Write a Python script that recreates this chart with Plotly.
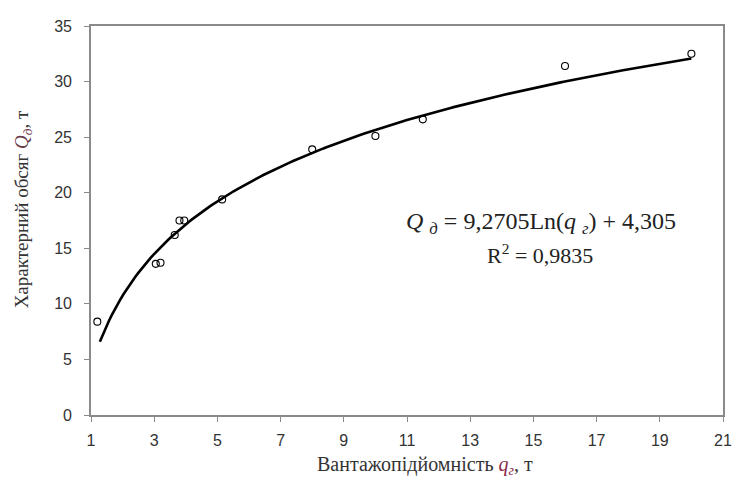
import numpy as np
import plotly.graph_objects as go

# Observed data (capacity q_г, t ; characteristic volume Q_д, t)
capacity = [1.2, 3.05, 3.2, 3.65, 3.8, 3.95, 5.15, 8.0, 10.0, 11.5, 16.0, 20.0]
volume = [8.4, 13.6, 13.7, 16.2, 17.5, 17.5, 19.4, 23.9, 25.1, 26.6, 31.4, 32.5]

# Logarithmic trendline coefficients as printed on the chart
trend_a = 9.2705
trend_b = 4.305
trend_x_start = 1.28
trend_x_end = 20.0

x_ticks = [1, 3, 5, 7, 9, 11, 13, 15, 17, 19, 21]
y_ticks = [0, 5, 10, 15, 20, 25, 30, 35]

eq_text = ("<i>Q</i> <sub><i>д</i></sub> = 9,2705Ln(<i>q</i> <sub><i>г</i></sub>) + 4,305")
r2_text = "R<sup>2</sup> = 0,9835"

tx = np.linspace(trend_x_start, trend_x_end, 200)
ty = trend_a * np.log(tx) + trend_b

fig = go.Figure()
fig.add_trace(go.Scatter(x=tx, y=ty, mode="lines",
                         line=dict(color="black", width=2.6), hoverinfo="skip"))
fig.add_trace(go.Scatter(x=capacity, y=volume, mode="markers",
                         marker=dict(symbol="circle-open", size=7,
                                     color="black", line=dict(width=1.1))))

axis_common = dict(showline=True, mirror=True, linecolor="#8a8a8a", linewidth=1.6,
                   ticks="outside", ticklen=5, tickcolor="#8a8a8a", tickwidth=1,
                   showgrid=False, zeroline=False,
                   tickfont=dict(family="Liberation Sans, Arial", size=16, color="#333"))

fig.update_xaxes(range=[1, 21], tickvals=x_ticks, ticktext=[str(v) for v in x_ticks],
                 ticklabelstandoff=5, **axis_common)
fig.update_yaxes(range=[0, 35], tickvals=y_ticks, ticktext=[str(v) for v in y_ticks],
                 ticklabelstandoff=9, **axis_common)

serif = "Liberation Serif, Times New Roman"
fig.add_annotation(xref="paper", yref="paper", x=0.528, y=-0.129, yanchor="middle",
                   xanchor="center", showarrow=False,
                   text="Вантажопідйомність <i><span style='color:#8b2a4a'>q</span></i>"
                        "<sub><i><span style='color:#8b2a4a'>г</span></i></sub>, т",
                   font=dict(family=serif, size=20, color="#333"))
fig.add_annotation(xref="paper", yref="paper", x=-0.108, y=0.528, xanchor="center",
                   yanchor="middle", showarrow=False, textangle=-90,
                   text="Характерний обсяг <i><span style='color:#6a3a4a'>Q</span></i>"
                        "<sub><i><span style='color:#6a3a4a'>д</span></i></sub>, т",
                   font=dict(family=serif, size=19, color="#333"))
fig.add_annotation(x=15.25, y=17.3, xref="x", yref="y", showarrow=False,
                   xanchor="center", yanchor="middle", text=eq_text,
                   font=dict(family=serif, size=24, color="#222"))
fig.add_annotation(x=15.2, y=14.45, xref="x", yref="y", showarrow=False,
                   xanchor="center", yanchor="middle", text=r2_text,
                   font=dict(family=serif, size=22, color="#222"))

fig.update_layout(width=734, height=478, autosize=False,
                  margin=dict(l=83, r=10, t=13, b=71),
                  plot_bgcolor="white", paper_bgcolor="white", showlegend=False)

fig.write_html("out.html")
